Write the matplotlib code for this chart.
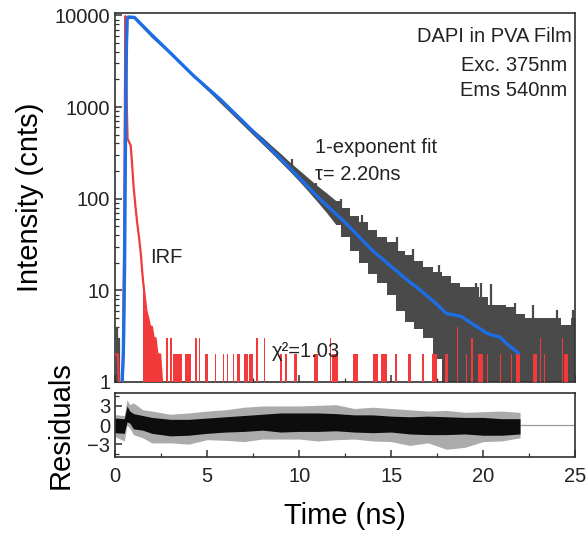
import numpy as np
import matplotlib.pyplot as plt
from matplotlib.ticker import FixedLocator, MultipleLocator, LogLocator, NullFormatter

plt.rcParams['font.family'] = ['Liberation Sans', 'DejaVu Sans']

# decay data: envelope of the noisy trace (ns, counts)
band_t = [0.5, 0.6, 0.7, 1.0, 1.5, 2, 3, 4, 5, 6, 7, 8, 8.5, 9, 9.5, 10, 10.5, 11, 11.5,
          12, 12.5, 13, 13.5, 14, 14.5, 15, 15.5, 16, 16.5, 17, 17.5, 18, 18.5, 19, 19.5,
          20, 20.5, 21, 21.5, 22, 22.5, 23, 23.5, 24, 24.5, 25]
band_hi = [5, 5000, 9800, 9700, 7550, 5950, 3980, 2540, 1650, 1060, 690, 470, 380, 310, 250,
           205, 168, 138, 115, 95, 80, 65, 55, 46, 38, 34, 27, 24, 21, 18, 16, 14.5, 12, 11,
           11, 8.5, 7, 7, 6.5, 5.5, 5, 5, 5, 5, 4.2, 5]
band_lo = [1, 1000, 9200, 9300, 7250, 5700, 3780, 2400, 1530, 975, 620, 395, 315, 250, 198,
           155, 120, 92, 70, 52, 38, 27, 20, 15, 12, 9, 6, 4.5, 3.8, 3, 1.8, 1, 1, 1, 1,
           1, 1, 1, 1, 1, 1, 1, 1, 1, 1, 1]
# single-channel excursions sticking out of the band
spike_t = [0.1, 0.2, 9.6, 10.9, 12.3, 13.4, 15.3, 16.2, 17.6, 19.6, 19.9, 20.4, 21.7, 22.7,
           24.0, 24.9]
spike_lo = [1, 1, 200, 100, 60, 40, 15, 10, 6, 4, 4, 4, 3, 3, 3, 3]
spike_hi = [4, 3, 270, 150, 100, 66, 38, 28, 19, 12, 12, 11.8, 7.2, 6.9, 6.1, 6.1]

# instrument response
irf_t = [0.0, 0.15, 0.2, 0.42, 0.50, 0.56, 0.60, 0.64, 0.68, 0.75, 0.85, 0.92, 1.0, 1.1,
         1.2, 1.3, 1.4, 1.5, 1.6, 1.7, 1.8, 1.9, 2.0, 2.1, 2.2, 2.3, 2.45, 2.55]
irf_v = [2, 2, 1, 1, 50, 9800, 3000, 1000, 450, 420, 380, 250, 140, 85, 55, 38, 25, 14, 9,
         6, 5, 4, 4, 3, 3, 2, 2, 1]
# isolated counts in the IRF tail: start, end, counts
irf_run_a = [2.75, 3.0, 3.15, 3.8, 4.35, 4.55, 4.89, 5.43, 5.87, 6.1, 6.4, 6.6, 7.0, 7.3,
             7.68, 8.1, 8.97, 9.25, 9.7, 10.8, 11.68, 11.8, 12.9, 14.0, 14.45, 15.2, 15.9,
             16.7, 17.2, 17.9, 18.55, 19.05, 19.35, 19.7, 20.2, 20.9, 21.5, 21.8, 22.7,
             23.1, 23.3, 24.28, 24.4]
irf_run_b = [2.85, 3.1, 3.62, 4.1, 4.45, 4.62, 5.05, 5.48, 5.92, 6.15, 6.45, 6.8, 7.2, 7.5,
             7.74, 8.15, 9.05, 9.34, 9.9, 11.0, 11.72, 12.1, 13.2, 14.3, 14.8, 15.3, 16.1,
             16.8, 17.5, 18.1, 18.65, 19.1, 19.42, 20.0, 20.25, 20.95, 21.55, 22.0, 22.9,
             23.15, 23.35, 24.32, 24.6]
irf_run_v = [3, 3, 2, 2, 3, 3, 2, 2, 2, 2, 2, 2, 2, 2, 3, 3, 2, 2, 2, 2, 3, 2, 2, 2, 2, 2,
             2, 2, 2, 2, 4, 2, 3, 2, 2, 2, 2, 2, 2, 3, 2, 3, 2]

# single exponential fit
fit_t = [0.38, 0.45, 0.52, 0.56, 0.60, 0.65, 0.72, 1.05, 2.0, 3.0, 4.3, 5.7, 7.0, 8.0, 9.5,
         11.1, 12.5, 14.0, 15.9, 16.6, 17.5, 18.0, 18.4, 18.8, 19.2, 20.2, 20.6, 20.9,
         21.3, 21.9]
fit_v = [1, 2, 20, 300, 3000, 9000, 9600, 9500, 6100, 3900, 2160, 1220, 680, 430, 215, 100,
         55, 27, 12.8, 10, 7.0, 5.6, 5.4, 5.2, 4.6, 3.4, 3.2, 3.1, 2.6, 2.07]

# weighted residuals envelope
res_t = [0, 0.5, 0.65, 0.8, 1, 1.5, 2, 3, 4, 5, 6, 7, 8, 9, 10, 11, 12, 13, 14, 15, 16,
         17, 18, 19, 20, 21, 22]
res_hi = [1.1, 1.0, 3.0, 2.2, 1.8, 1.5, 1.2, 0.9, 0.9, 1.1, 1.3, 1.5, 1.7, 1.9, 1.9, 1.9,
          1.8, 1.6, 1.6, 1.4, 1.3, 1.4, 1.3, 1.2, 1.2, 1.0, 1.0]
res_lo = [-1.2, -1.3, 0.5, 0.3, -0.6, -0.8, -1.3, -1.7, -1.6, -1.3, -1.1, -1.0, -0.8, -1.1,
          -1.0, -1.0, -0.9, -1.1, -1.2, -1.1, -1.4, -1.5, -1.5, -1.4, -1.6, -1.6, -1.4]
res_max = [1.6, 1.5, 4.0, 3.2, 3.5, 2.4, 2.2, 1.7, 1.9, 2.2, 2.4, 2.8, 3.0, 3.0, 3.0, 3.1,
           3.2, 2.6, 2.8, 2.6, 2.4, 2.2, 2.3, 2.0, 2.1, 2.2, 2.0]
res_min = [-1.8, -2.5, 0.0, -0.5, -1.5, -2.0, -2.8, -2.8, -3.0, -2.3, -2.4, -2.6, -2.2, -2.2,
           -2.2, -2.5, -2.3, -2.2, -2.5, -2.6, -3.2, -2.8, -3.8, -3.5, -2.6, -2.5, -2.0]

gray = '#4a4a4a'
red = '#f23a3a'
blue = '#1c6de6'
edge = '#303030'

fig = plt.figure(figsize=(5.87, 5.35), dpi=100)
ax = fig.add_axes([0.196, 0.286, 0.784, 0.690])
axr = fig.add_axes([0.196, 0.146, 0.784, 0.119])

# smooth part of the trace, then the noisy tail drawn stepwise
k = band_t.index(12)
ax.fill_between(band_t[:k + 1], band_lo[:k + 1], band_hi[:k + 1], color=gray, lw=0, zorder=2)
ax.fill_between(band_t[k:], band_lo[k:], band_hi[k:], step='mid', color=gray, lw=0, zorder=2)
ax.vlines(spike_t, spike_lo, spike_hi, color=gray, lw=1.6, zorder=2)

irf_t_arr = np.array(irf_t)
ax.plot(irf_t, irf_v, color=red, lw=1.6, zorder=3)
ax.fill_between(irf_t, 1, irf_v, where=irf_t_arr >= 1.45, step='mid', color=red, lw=0, zorder=3)
ax.bar(irf_run_a, np.array(irf_run_v) - 1, bottom=1,
       width=np.maximum(np.array(irf_run_b) - np.array(irf_run_a), 0.04),
       align='edge', color=red, lw=0, zorder=3)

ax.plot(fit_t, fit_v, color=blue, lw=2.4, zorder=4, solid_capstyle='round')

ax.set_yscale('log')
ax.set_xlim(0, 25)
ax.set_ylim(1, 10650)
ax.set_yticks([1, 10, 100, 1000, 10000])
ax.set_yticklabels(['1', '10', '100', '1000', '10000'])
ax.yaxis.set_minor_locator(LogLocator(base=10, subs=np.arange(2, 10)))
ax.yaxis.set_minor_formatter(NullFormatter())
ax.xaxis.set_major_locator(MultipleLocator(5))
ax.xaxis.set_minor_locator(MultipleLocator(2.5))
ax.tick_params(axis='x', labelbottom=False)
ax.set_ylabel('Intensity (cnts)', fontsize=21)
ax.yaxis.set_label_coords(-0.154, 0.5)

kw = dict(transform=ax.transAxes, fontsize=14.5, color='#222222')
ax.text(0.993, 0.935, 'DAPI in PVA Film', ha='right', va='center', **kw)
ax.text(0.983, 0.856, 'Exc. 375nm', ha='right', va='center', **kw)
ax.text(0.983, 0.789, 'Ems 540nm', ha='right', va='center', **kw)
ax.text(0.435, 0.634, '1-exponent fit', ha='left', va='center', **kw)
ax.text(0.435, 0.561, 'τ= 2.20ns', ha='left', va='center', **kw)
ax.text(0.076, 0.336, 'IRF', ha='left', va='center', **kw)
ax.text(0.341, 0.083, 'χ²=1.03', ha='left', va='center', **kw)

axr.axhline(0, color='#9a9a9a', lw=0.9, zorder=1)
axr.fill_between(res_t, res_min, res_max, color='#ababab', lw=0, zorder=2)
axr.fill_between(res_t, res_lo, res_hi, color='#0d0d0d', lw=0, zorder=3)
axr.set_xlim(0, 25)
axr.set_ylim(-5, 5)
axr.yaxis.set_major_locator(FixedLocator([-3, 0, 3]))
axr.yaxis.set_minor_locator(MultipleLocator(1.5))
axr.xaxis.set_major_locator(MultipleLocator(5))
axr.xaxis.set_minor_locator(MultipleLocator(2.5))
axr.set_xlabel('Time (ns)', fontsize=21, labelpad=12)
axr.set_ylabel('Residuals', fontsize=21)
axr.yaxis.set_label_coords(-0.088, 0.5)

for a in (ax, axr):
    for s in a.spines.values():
        s.set_color(edge)
        s.set_linewidth(1.2)
    a.tick_params(which='both', direction='in', colors=edge, labelcolor='#222222',
                  top=False, right=False)
    a.tick_params(which='major', length=5, width=1.1, labelsize=14.5)
    a.tick_params(which='minor', length=3, width=0.9)
axr.tick_params(axis='x', which='major', pad=7)

fig.savefig('out.png', dpi=100)
